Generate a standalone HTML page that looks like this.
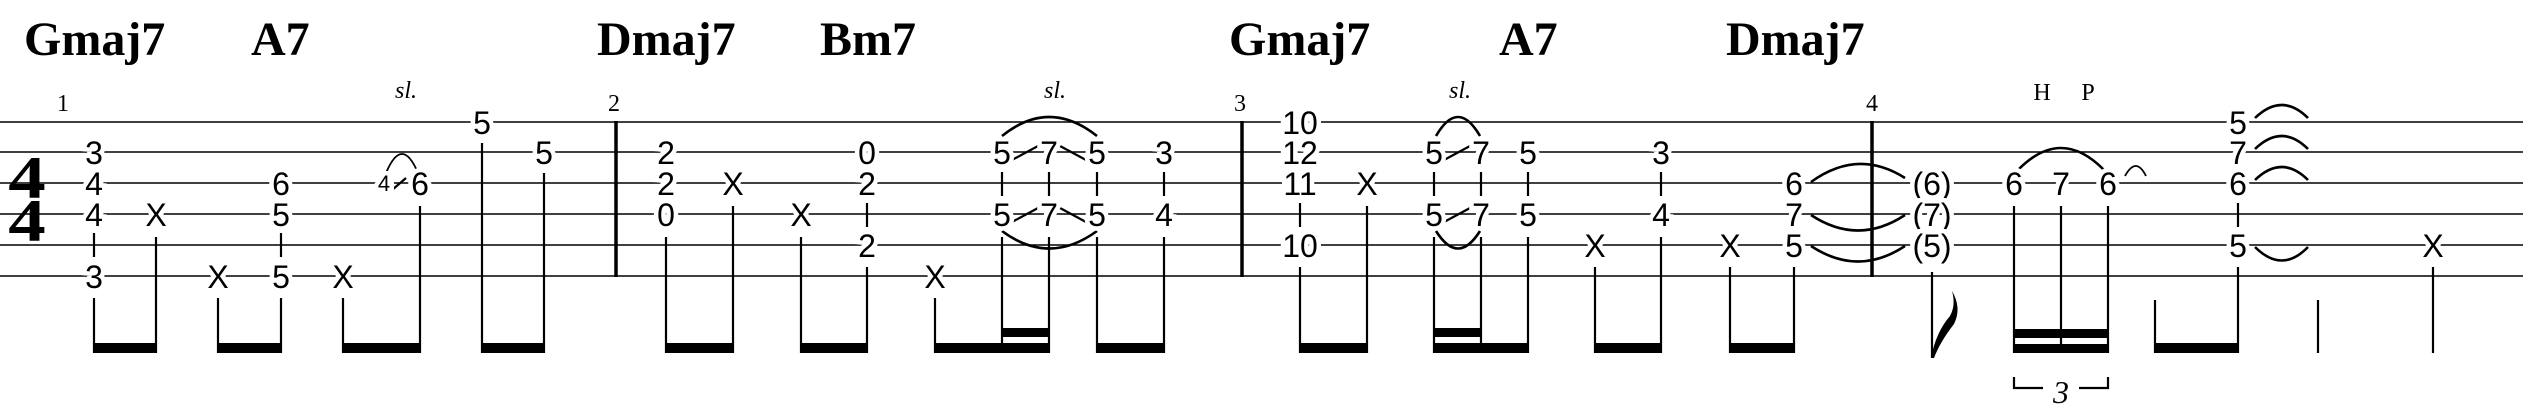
<!DOCTYPE html>
<html><head><meta charset="utf-8"><style>
html,body{margin:0;padding:0;background:#fff;}
svg{display:block}
.n{font-family:"Liberation Sans",sans-serif;font-size:32px;text-anchor:middle;fill:#000;stroke:#fff;stroke-width:9px;paint-order:stroke;}
.c{font-family:"Liberation Serif",serif;font-weight:bold;font-size:48px;fill:#000}
.m{font-family:"Liberation Serif",serif;font-size:24px;text-anchor:middle}
.sl{font-family:"Liberation Serif",serif;font-style:italic;font-size:24px;text-anchor:middle}
.st{stroke:#000;stroke-width:2.2}
.tie{fill:none;stroke:#000;stroke-width:2.6}
</style></head><body>
<svg width="2523" height="414" viewBox="0 0 2523 414" xmlns="http://www.w3.org/2000/svg">
<g stroke="#000" stroke-width="1.5">
<line x1="0" y1="122" x2="2523" y2="122"/><line x1="0" y1="152" x2="2523" y2="152"/>
<line x1="0" y1="183" x2="2523" y2="183"/><line x1="0" y1="214" x2="2523" y2="214"/>
<line x1="0" y1="245" x2="2523" y2="245"/><line x1="0" y1="276" x2="2523" y2="276"/>
</g>
<g stroke="#000" stroke-width="3.5">
<line x1="616" y1="121" x2="616" y2="277"/><line x1="1242" y1="121" x2="1242" y2="277"/><line x1="1872" y1="121" x2="1872" y2="277"/>
</g>
<!-- chord names -->
<text class="c" x="24" y="55">Gmaj7</text>
<text class="c" x="251" y="55">A7</text>
<text class="c" x="597" y="55">Dmaj7</text>
<text class="c" x="820" y="55">Bm7</text>
<text class="c" x="1229" y="55">Gmaj7</text>
<text class="c" x="1499" y="55">A7</text>
<text class="c" x="1726" y="55">Dmaj7</text>
<!-- measure numbers -->
<text class="m" x="63" y="111">1</text>
<text class="m" x="614" y="111">2</text>
<text class="m" x="1240" y="111">3</text>
<text class="m" x="1872" y="111">4</text>
<!-- time sig -->
<text x="27" y="198" font-family="Liberation Serif,serif" font-weight="bold" font-size="60" text-anchor="middle" transform="translate(27 0) scale(1.25 1) translate(-27 0)">4</text>
<text x="27" y="241" font-family="Liberation Serif,serif" font-weight="bold" font-size="60" text-anchor="middle" transform="translate(27 0) scale(1.25 1) translate(-27 0)">4</text>
<!-- sl / HP -->
<text class="sl" x="406" y="98">sl.</text>
<text class="sl" x="1055" y="98">sl.</text>
<text class="sl" x="1460" y="98">sl.</text>
<text class="m" x="2042" y="100" font-size="26">H</text>
<text class="m" x="2088" y="100" font-size="26">P</text>

<!-- stems & connectors -->
<g class="st">
<line x1="94" y1="233" x2="94" y2="257"/><line x1="94" y1="298" x2="94" y2="353"/>
<line x1="156" y1="237" x2="156" y2="353"/>
<line x1="218" y1="298" x2="218" y2="353"/>
<line x1="281" y1="233" x2="281" y2="257"/><line x1="281" y1="298" x2="281" y2="353"/>
<line x1="343" y1="298" x2="343" y2="353"/>
<line x1="420" y1="206" x2="420" y2="353"/>
<line x1="482" y1="143" x2="482" y2="353"/>
<line x1="544" y1="173" x2="544" y2="353"/>

<line x1="666" y1="237" x2="666" y2="353"/>
<line x1="733" y1="206" x2="733" y2="353"/>
<line x1="801" y1="237" x2="801" y2="353"/>
<line x1="867" y1="203" x2="867" y2="227"/><line x1="867" y1="267" x2="867" y2="353"/>
<line x1="935" y1="298" x2="935" y2="353"/>
<line x1="1002" y1="172" x2="1002" y2="196"/><line x1="1002" y1="237" x2="1002" y2="353"/>
<line x1="1049" y1="172" x2="1049" y2="196"/><line x1="1049" y1="237" x2="1049" y2="353"/>
<line x1="1097" y1="172" x2="1097" y2="196"/><line x1="1097" y1="237" x2="1097" y2="353"/>
<line x1="1164" y1="172" x2="1164" y2="196"/><line x1="1164" y1="237" x2="1164" y2="353"/>

<line x1="1300" y1="203" x2="1300" y2="227"/><line x1="1300" y1="267" x2="1300" y2="353"/>
<line x1="1367" y1="206" x2="1367" y2="353"/>
<line x1="1434" y1="172" x2="1434" y2="196"/><line x1="1434" y1="237" x2="1434" y2="353"/>
<line x1="1481" y1="172" x2="1481" y2="196"/><line x1="1481" y1="237" x2="1481" y2="353"/>
<line x1="1528" y1="172" x2="1528" y2="196"/><line x1="1528" y1="237" x2="1528" y2="353"/>
<line x1="1595" y1="267" x2="1595" y2="353"/>
<line x1="1661" y1="172" x2="1661" y2="196"/><line x1="1661" y1="237" x2="1661" y2="353"/>
<line x1="1730" y1="267" x2="1730" y2="353"/>
<line x1="1794" y1="267" x2="1794" y2="353"/>

<line x1="1932" y1="272" x2="1932" y2="358"/>
<line x1="2014" y1="206" x2="2014" y2="353"/>
<line x1="2061" y1="206" x2="2061" y2="353"/>
<line x1="2108" y1="206" x2="2108" y2="353"/>
<line x1="2155" y1="300" x2="2155" y2="353"/>
<line x1="2238" y1="203" x2="2238" y2="227"/><line x1="2238" y1="267" x2="2238" y2="353"/>
<line x1="2318" y1="300" x2="2318" y2="353"/>
<line x1="2433" y1="267" x2="2433" y2="353"/>
</g>
<!-- beams -->
<g fill="#000">
<rect x="93" y="343" width="64" height="10"/>
<rect x="217" y="343" width="65" height="10"/>
<rect x="342" y="343" width="79" height="10"/>
<rect x="481" y="343" width="64" height="10"/>
<rect x="665" y="343" width="69" height="10"/>
<rect x="800" y="343" width="68" height="10"/>
<rect x="934" y="343" width="116" height="10"/>
<rect x="1001" y="328" width="49" height="9"/>
<rect x="1096" y="343" width="69" height="10"/>
<rect x="1299" y="343" width="69" height="10"/>
<rect x="1433" y="343" width="96" height="10"/>
<rect x="1433" y="328" width="49" height="9"/>
<rect x="1594" y="343" width="68" height="10"/>
<rect x="1729" y="343" width="66" height="10"/>
<rect x="2013" y="329" width="96" height="9"/>
<rect x="2013" y="344" width="96" height="9"/>
<rect x="2154" y="343" width="85" height="10"/>
<path d="M1931 358 Q1936 332 1950 316 Q1956 305 1952 291 Q1962 308 1954 324 Q1940 342 1934 358 Z"/>
</g>
<!-- triplet -->
<path d="M2014 377 V388 H2043 M2079 388 H2108 V377" fill="none" stroke="#000" stroke-width="2.2"/>
<text x="2061" y="403" font-family="Liberation Serif,serif" font-style="italic" font-size="32" text-anchor="middle">3</text>

<!-- slides & arcs -->
<g class="tie">
<path d="M386 173 Q402 135 418 173" stroke-width="1.8"/>
<path d="M1002 136 Q1049 98 1097 136"/>
<path d="M1002 231 Q1049 266 1097 231"/>
<path d="M1436 136 Q1458 98 1480 136"/>
<path d="M1436 231 Q1458 266 1480 231"/>
<path d="M1811 182 Q1858 148 1905 178"/>
<path d="M1811 215 Q1858 246 1905 215"/>
<path d="M1811 246 Q1858 277 1905 246"/>
<path d="M2018 170 Q2061 126 2104 170"/>
<path d="M2125 176 Q2136 156 2146 176" stroke-width="1.8"/>
<path d="M2255 118 Q2282 92 2308 118"/>
<path d="M2255 149 Q2282 123 2308 149"/>
<path d="M2255 180 Q2282 154 2308 180"/>
<path d="M2255 247 Q2282 274 2308 247"/>
</g>
<g stroke="#000" stroke-width="2.2">
<line x1="392" y1="190" x2="406" y2="178"/>
<line x1="1012" y1="160" x2="1038" y2="146"/><line x1="1060" y1="146" x2="1086" y2="160"/>
<line x1="1012" y1="222" x2="1038" y2="208"/><line x1="1060" y1="208" x2="1086" y2="222"/>
<line x1="1444" y1="160" x2="1470" y2="146"/>
<line x1="1444" y1="222" x2="1470" y2="208"/>
</g>

<!-- fret numbers -->
<g class="n">
<text x="94" y="164">3</text><text x="94" y="195">4</text><text x="94" y="226">4</text><text x="94" y="288">3</text>
<text x="156" y="226">X</text>
<text x="218" y="288">X</text>
<text x="281" y="195">6</text><text x="281" y="226">5</text><text x="281" y="288">5</text>
<text x="343" y="288">X</text>
<text x="384" y="191" font-size="22">4</text><text x="420" y="195">6</text>
<text x="482" y="134">5</text>
<text x="544" y="164">5</text>

<text x="666" y="164">2</text><text x="666" y="195">2</text><text x="666" y="226">0</text>
<text x="733" y="195">X</text>
<text x="801" y="226">X</text>
<text x="867" y="164">0</text><text x="867" y="195">2</text><text x="867" y="257">2</text>
<text x="935" y="288">X</text>
<text x="1002" y="164">5</text><text x="1002" y="226">5</text>
<text x="1049" y="164">7</text><text x="1049" y="226">7</text>
<text x="1097" y="164">5</text><text x="1097" y="226">5</text>
<text x="1164" y="164">3</text><text x="1164" y="226">4</text>

<text x="1300" y="134">10</text><text x="1300" y="164">12</text><text x="1300" y="195">11</text><text x="1300" y="257">10</text>
<text x="1367" y="195">X</text>
<text x="1434" y="164">5</text><text x="1434" y="226">5</text>
<text x="1481" y="164">7</text><text x="1481" y="226">7</text>
<text x="1528" y="164">5</text><text x="1528" y="226">5</text>
<text x="1595" y="257">X</text>
<text x="1661" y="164">3</text><text x="1661" y="226">4</text>
<text x="1730" y="257">X</text>
<text x="1794" y="195">6</text><text x="1794" y="226">7</text><text x="1794" y="257">5</text>

<text x="1932" y="195">(6)</text><text x="1932" y="226">(7)</text><text x="1932" y="257">(5)</text>
<text x="2014" y="195">6</text><text x="2061" y="195">7</text><text x="2108" y="195">6</text>
<text x="2238" y="134">5</text><text x="2238" y="164">7</text><text x="2238" y="195">6</text><text x="2238" y="257">5</text>
<text x="2433" y="257">X</text>
</g>
</svg>
</body></html>
